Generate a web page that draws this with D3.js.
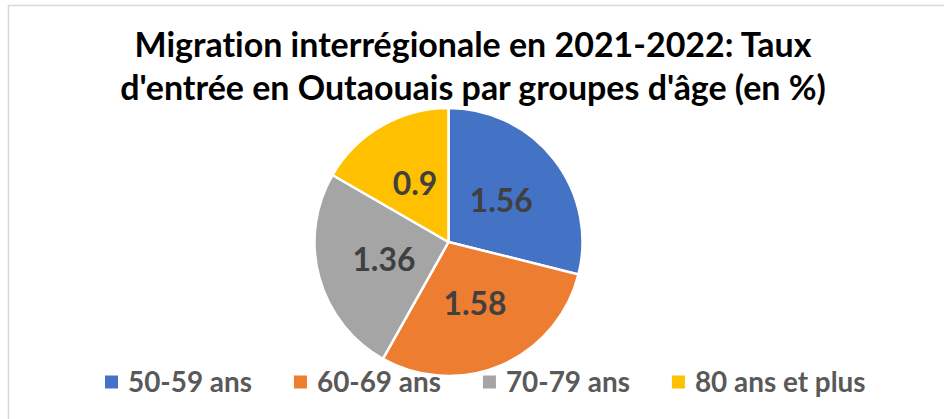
<!DOCTYPE html>
<html>
<head>
<meta charset="utf-8">
<script src="https://cdn.jsdelivr.net/npm/d3@7"></script>
<style>
  html, body { margin: 0; padding: 0; background: #fff; }
  svg { display: block; }
  text { font-variant-ligatures: none; font-feature-settings: "liga" 0; }
</style>
</head>
<body>
<div id="chart"></div>
<script>
// Data
const categories = ["50-59 ans", "60-69 ans", "70-79 ans", "80 ans et plus"];
const values = [1.56, 1.58, 1.36, 0.9];
const labels = ["1.56", "1.58", "1.36", "0.9"];
const colors = ["#4472C4", "#ED7D31", "#A5A5A5", "#FFC000"];
const titleLines = [
  "Migration interrégionale en 2021-2022: Taux",
  "d'entrée en Outaouais par groupes d'âge (en %)"
];

const width = 944, height = 419;
const fontFamily = "Lato, 'Open Sans', sans-serif";

const svg = d3.select('#chart').append('svg')
  .attr('width', width)
  .attr('height', height);

// chart area border
svg.append('rect')
  .attr('x', 8.5).attr('y', 5.5)
  .attr('width', width).attr('height', height)
  .attr('fill', '#fff')
  .attr('stroke', '#d9d9d9')
  .attr('stroke-width', 1.5);

// scale a text's font size so it spans the wanted width
function fitFont(sel, targetWidth, base) {
  sel.style('font-size', base + 'px');
  const w = sel.node().getComputedTextLength();
  const size = base * targetWidth / w;
  sel.style('font-size', size + 'px');
  return size;
}

// Title
const titleY = [57, 100];
const t2 = svg.append('text')
  .attr('x', 473).attr('y', titleY[1])
  .attr('text-anchor', 'middle')
  .style('font-family', fontFamily)
  .style('font-weight', 'bold')
  .attr('fill', '#000')
  .text(titleLines[1]);
const titleSize = fitFont(t2, 706, 30);
svg.append('text')
  .attr('x', 473).attr('y', titleY[0])
  .attr('text-anchor', 'middle')
  .style('font-family', fontFamily)
  .style('font-weight', 'bold')
  .style('font-size', titleSize + 'px')
  .attr('fill', '#000')
  .text(titleLines[0]);

// Pie
const cx = 448.5, cy = 242, radius = 134;
const pie = d3.pie().sort(null).value(d => d);
const arcs = pie(values);
const arc = d3.arc().innerRadius(0).outerRadius(radius);

const g = svg.append('g').attr('transform', `translate(${cx},${cy})`);

g.selectAll('path')
  .data(arcs)
  .enter().append('path')
  .attr('d', arc)
  .attr('fill', (d, i) => colors[i])
  .attr('stroke', '#fff')
  .attr('stroke-width', 2.5)
  .attr('stroke-linejoin', 'round');

// Data labels
const labelSel = g.selectAll('text.lbl')
  .data(arcs)
  .enter().append('text')
  .attr('class', 'lbl')
  .attr('transform', d => `translate(${arc.centroid(d)})`)
  .attr('text-anchor', 'middle')
  .attr('dy', '0.36em')
  .style('font-family', fontFamily)
  .style('font-weight', 'bold')
  .attr('fill', '#404040')
  .text((d, i) => labels[i]);
const lblSize = fitFont(d3.select(labelSel.nodes()[0]), 63, 30);
labelSel.style('font-size', lblSize + 'px');

// Legend
const legend = svg.append('g').attr('class', 'legend');
const legendY = 382, box = 13, boxGap = 10, itemGap = 42;
const items = legend.selectAll('g')
  .data(categories)
  .enter().append('g');
items.append('rect')
  .attr('width', box).attr('height', box)
  .attr('y', legendY - box / 2)
  .attr('fill', (d, i) => colors[i]);
const legendText = items.append('text')
  .attr('x', box + boxGap)
  .attr('y', legendY)
  .attr('dy', '0.36em')
  .style('font-family', fontFamily)
  .style('font-weight', 'bold')
  .attr('fill', '#595959')
  .text(d => d);
const legSize = fitFont(d3.select(legendText.nodes()[0]), 124, 30);
legendText.style('font-size', legSize + 'px');

let xPos = 105;
items.each(function(d, i) {
  d3.select(this).attr('transform', `translate(${xPos},0)`);
  xPos += box + boxGap + legendText.nodes()[i].getComputedTextLength() + itemGap;
});
</script>
</body>
</html>
